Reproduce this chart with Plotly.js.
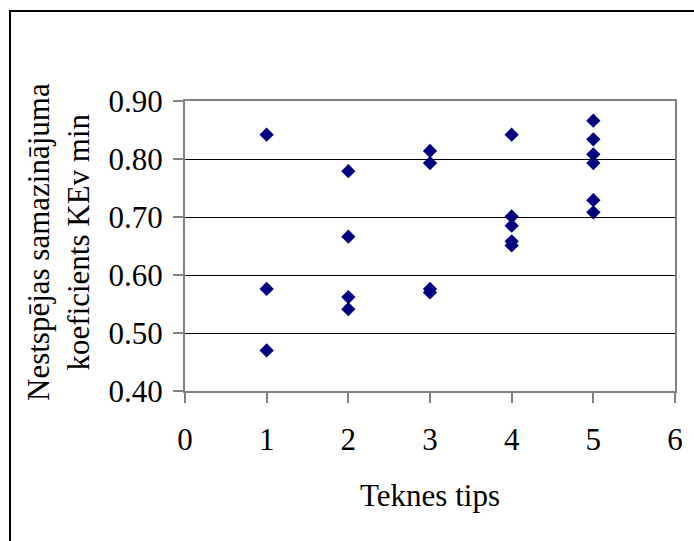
<!DOCTYPE html>
<html>
<head>
<meta charset="utf-8">
<script src="https://cdn.plot.ly/plotly-3.0.1.min.js"></script>
<style>html,body{margin:0;padding:0;background:#fff;}#chart{width:694px;height:541px;}</style>
</head>
<body>
<div id="chart"></div>
<script>
// Teknes tips (x) and Nestspējas samazinājuma koeficients KEv min (y)
const teknesTips = [1, 1, 1,
                    2, 2, 2, 2,
                    3, 3, 3, 3,
                    4, 4, 4, 4, 4,
                    5, 5, 5, 5, 5, 5];
const koeficients = [0.842, 0.576, 0.470,
                     0.779, 0.666, 0.562, 0.541,
                     0.814, 0.793, 0.576, 0.570,
                     0.842, 0.701, 0.685, 0.658, 0.651,
                     0.866, 0.834, 0.808, 0.793, 0.729, 0.708];
const xTicks = [0, 1, 2, 3, 4, 5, 6];
const yTicks = [0.40, 0.50, 0.60, 0.70, 0.80, 0.90];
const xTitle = 'Teknes tips';
const yTitleLines = ['Nestspējas samazinājuma', 'koeficients KEv min'];

const W = 694, H = 541;
const L = 185, R = 19, T = 101, B = 150;
const pw = W - L - R, ph = H - T - B;
const px = v => (v - L) / pw;
const py = v => (H - B - v) / ph;

const font = {family: 'Times New Roman, Times, Liberation Serif, DejaVu Serif, serif', size: 31, color: '#000'};

Plotly.newPlot('chart', [{
  type: 'scatter',
  mode: 'markers',
  x: teknesTips,
  y: koeficients,
  marker: {symbol: 'diamond', size: 11, color: '#000080', line: {width: 0}},
  hoverinfo: 'x+y'
}], {
  width: W, height: H,
  margin: {l: L, r: R, t: T, b: B, pad: 0},
  paper_bgcolor: '#fff', plot_bgcolor: '#fff',
  font: font,
  showlegend: false,
  xaxis: {
    range: [0, 6], tickvals: xTicks, ticktext: xTicks.map(String),
    showgrid: false, zeroline: false,
    showline: true, mirror: true, linecolor: '#808080', linewidth: 2,
    ticks: 'outside', ticklen: 10, tickcolor: '#808080', tickwidth: 2,
    ticklabelstandoff: 10,
    tickfont: font,
    title: {text: xTitle, font: font, standoff: 28}
  },
  yaxis: {
    range: [0.4, 0.9], tickvals: yTicks, ticktext: yTicks.map(v => v.toFixed(2)),
    showgrid: true, gridcolor: '#000', gridwidth: 1, zeroline: false,
    showline: true, mirror: true, linecolor: '#808080', linewidth: 2,
    ticks: 'outside', ticklen: 10, tickcolor: '#808080', tickwidth: 2,
    ticklabelstandoff: 4,
    tickfont: font
  },
  annotations: [{
    xref: 'paper', yref: 'paper', x: px(58), y: py(242),
    xanchor: 'center', yanchor: 'middle',
    text: yTitleLines.join('<br>'), textangle: -90, showarrow: false,
    font: font, align: 'center'
  }],
  shapes: [{
    type: 'rect', xref: 'paper', yref: 'paper',
    x0: px(10), x1: px(710), y0: py(560), y1: py(11),
    line: {color: '#000', width: 2}, fillcolor: 'rgba(0,0,0,0)', layer: 'below'
  }]
}, {displayModeBar: false, staticPlot: true});
</script>
</body>
</html>
